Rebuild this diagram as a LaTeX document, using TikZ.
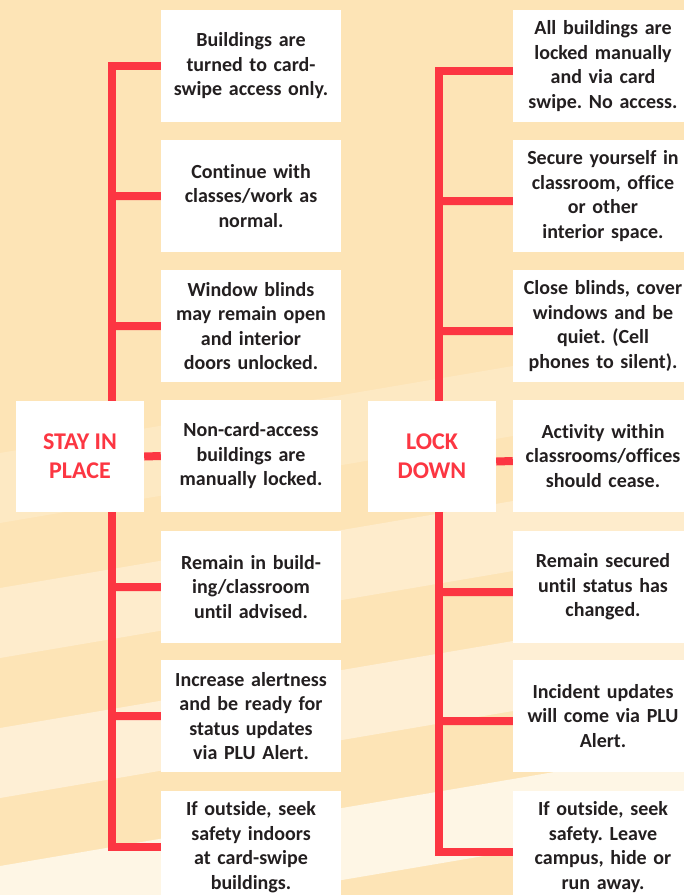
\documentclass[tikz,border=0pt]{standalone}
\usepackage{fontspec}
\setmainfont{Carlito}[Ligatures=NoCommon]
\usepackage{tikz}
\pgfdeclarelayer{back}
\pgfdeclarelayer{lines}
\pgfsetlayers{back,lines,main}
\frenchspacing

\definecolor{peach}{RGB}{253,228,182}
\definecolor{alertred}{RGB}{252,54,66}
\definecolor{ink}{RGB}{35,31,32}

\begin{document}
\begin{tikzpicture}
		[x=1pt,y=-1pt,
		%Styles
		info box/.style={fill=white,text=ink,inner sep=0pt,align=center,
			font=\bfseries\fontsize{20}{24.5}\selectfont,
			text width=176pt,minimum width=180pt,minimum height=112pt},
		title box/.style={fill=white,text=alertred,inner sep=0pt,align=center,
			font=\bfseries\fontsize{24}{29}\selectfont,
			minimum width=128pt,minimum height=111pt},
		branch/.style={draw=alertred,line width=8pt,line join=miter},
		band/.style={fill=#1}
		]
		
		%Colors
		\colorlet{light1}{peach!82!white}	%faint stripe
		\colorlet{light2}{peach!70!white}	%stripe
		\colorlet{light3}{peach!58!white}	%lower stripe
		\colorlet{light4}{peach!35!white}	%bottom stripe
		
		\path[use as bounding box] (0,0) rectangle (684,895);
		\clip (0,0) rectangle (684,895);
		
		\begin{pgfonlayer}{back}
		\fill[peach] (0,0) rectangle (684,895);
		\fill[band=light1] (0,453) -- (684,337) -- (684,407) -- (0,523) -- cycle;
		\fill[band=light2] (0,588) -- (684,472) -- (684,542) -- (0,658) -- cycle;
		\fill[band=light3] (0,728) -- (684,612) -- (684,682) -- (0,798) -- cycle;
		\fill[band=light4] (0,866) -- (684,750) -- (684,822) -- (0,938) -- cycle;
		\end{pgfonlayer}
		
		\node[title box] (stay) at (80,456.5) {STAY IN\\PLACE};
		\node[title box] (lock) at (432,456.5) {LOCK\\DOWN};
		
		\node[info box] (s1) at (251,66) {Buildings are\\turned to card-\\swipe access only.};
		\node[info box] (s2) at (251,196) {Continue with\\classes/work as\\normal.};
		\node[info box] (s3) at (251,326) {Window blinds\\may remain open\\and interior\\doors unlocked.};
		\node[info box] (s4) at (251,456) {Non-card-access\\buildings are\\manually locked.};
		\node[info box] (s5) at (251,587) {Remain in build-\\ing/classroom\\until advised.};
		\node[info box] (s6) at (251,716) {Increase alertness\\and be ready for\\status updates\\via PLU Alert.};
		\node[info box] (s7) at (251,847) {If outside, seek\\safety indoors\\at card-swipe\\buildings.};
		
		\node[info box] (l1) at (603,66) {All buildings are\\locked manually\\and via card\\swipe. No access.};
		\node[info box] (l2) at (603,196) {Secure yourself in\\classroom, office\\or other\\interior space.};
		\node[info box] (l3) at (603,326) {Close blinds, cover\\windows and be\\quiet. (Cell\\phones to silent).};
		\node[info box] (l4) at (603,456) {Activity within\\classrooms/offices\\should cease.};
		\node[info box] (l5) at (603,587) {Remain secured\\until status has\\changed.};
		\node[info box] (l6) at (603,716) {Incident updates\\will come via PLU\\Alert.};
		\node[info box] (l7) at (603,847) {If outside, seek\\safety. Leave\\campus, hide or\\run away.};
		
		\begin{pgfonlayer}{lines}
		\draw[branch] (s1.west) -- ++(-49,0) |- (s7.west);
		\draw[branch] (s2.west) -- ++(-49,0)
			(s3.west) -- ++(-49,0)
			(stay.east) -- (s4.west)
			(s5.west) -- ++(-49,0)
			(s6.west) -- ++(-49,0);
		\draw[branch] ([yshift=-5pt]l1.west) -- ++(-74,0) |- ([yshift=-5pt]l7.west);
		\draw[branch] ([yshift=-5pt]l2.west) -- ++(-74,0)
			([yshift=-5pt]l3.west) -- ++(-74,0)
			([yshift=-5pt]lock.east) -- ([yshift=-5pt]l4.west)
			([yshift=-5pt]l5.west) -- ++(-74,0)
			([yshift=-5pt]l6.west) -- ++(-74,0);
		\end{pgfonlayer}
	\end{tikzpicture}
\end{document}
